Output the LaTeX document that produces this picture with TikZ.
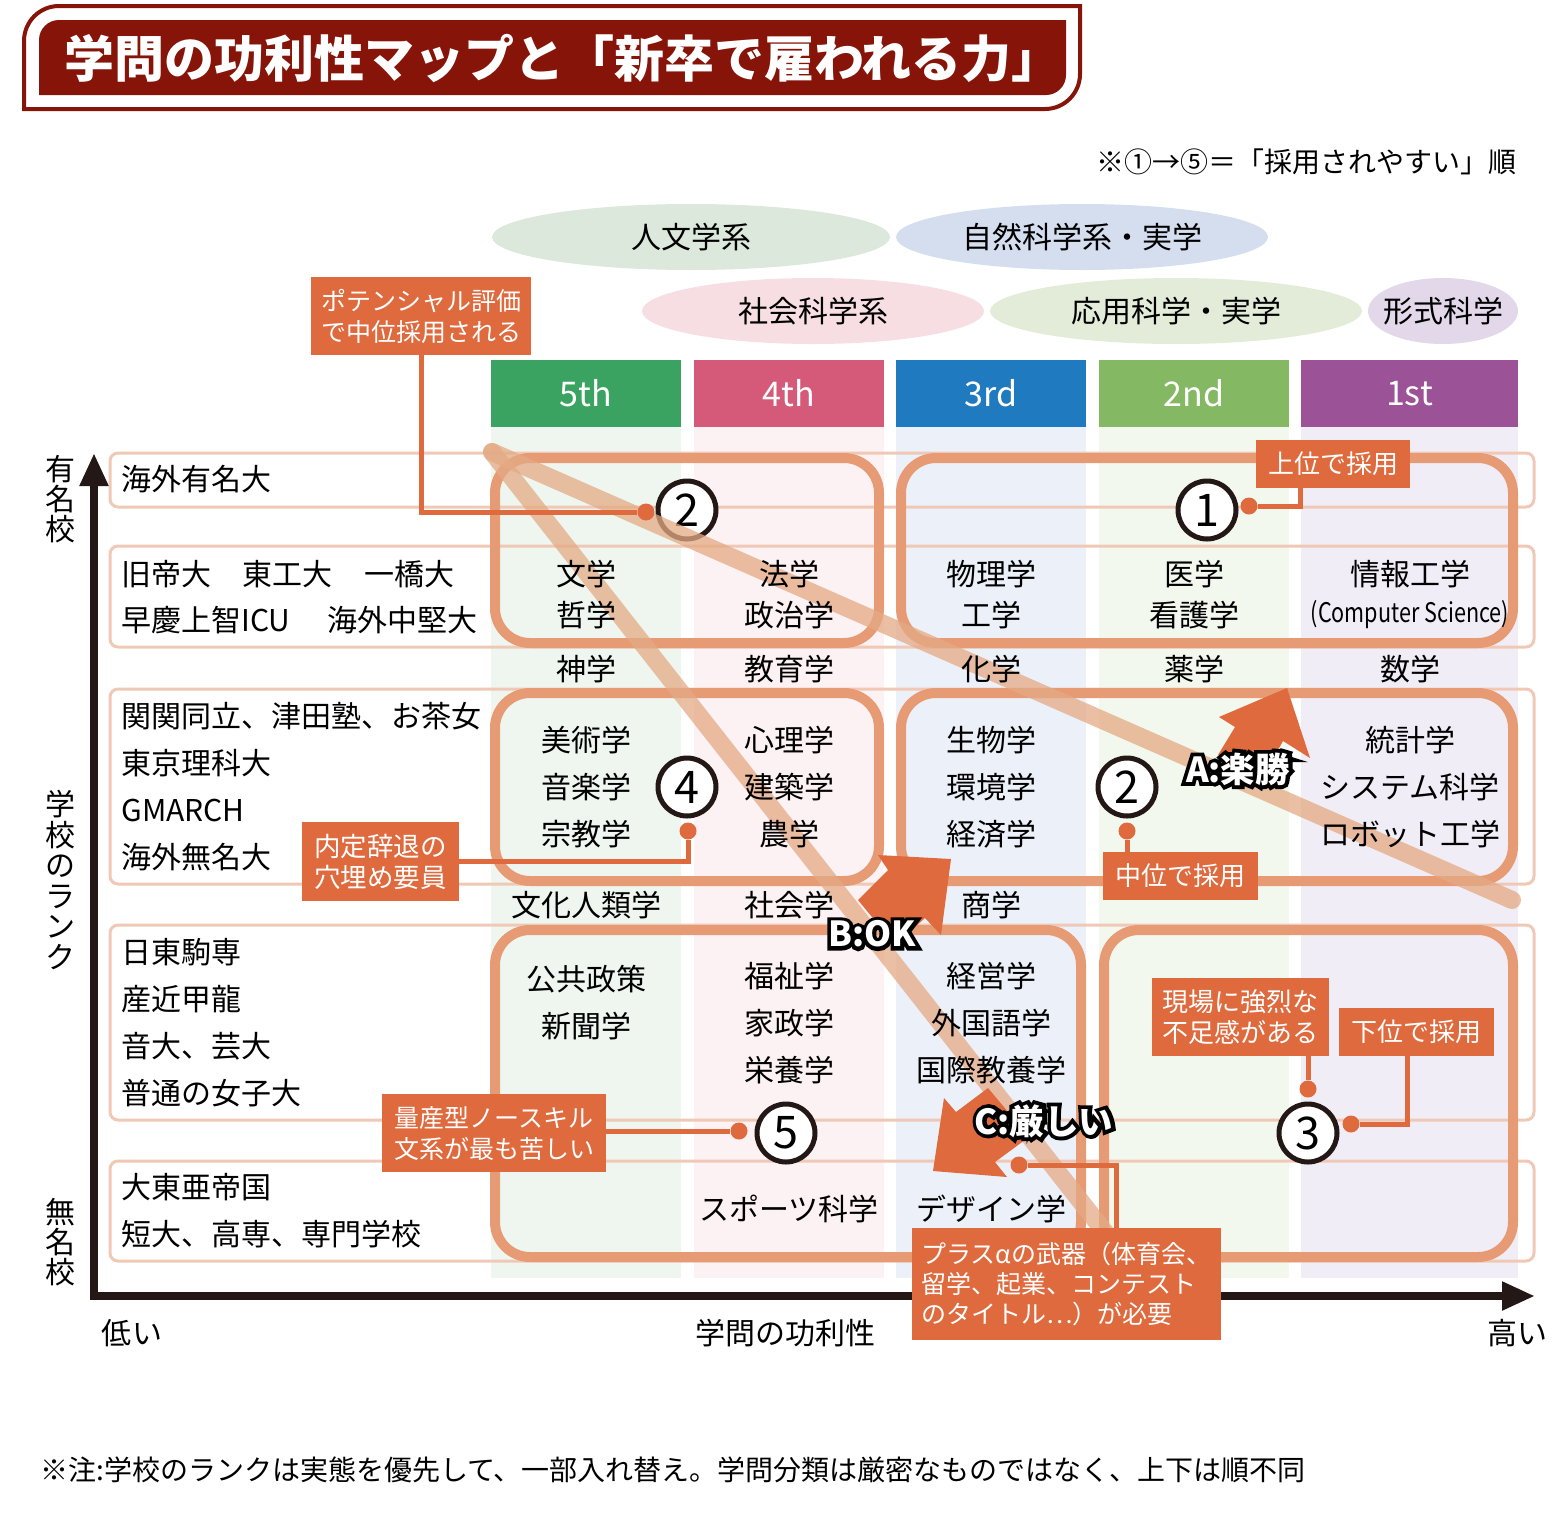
\documentclass[tikz,border=0pt]{standalone}
\usepackage{fontspec}
\usepackage{graphicx}
\setmainfont{Noto Sans CJK JP}
\newfontfamily\outlinefont[BoldFeatures={FakeBold=22}]{Noto Sans CJK JP}
\usetikzlibrary{arrows.meta}
\usetikzlibrary{shapes.geometric}
\definecolor{titlered}{HTML}{861408}
\definecolor{calloutc}{HTML}{DE6A3E}
\definecolor{framec}{HTML}{E69B75}
\definecolor{bandc}{HTML}{E4AA84}
\definecolor{rowc}{HTML}{F0C9B6}
\definecolor{axisc}{HTML}{231815}
\definecolor{humanc}{HTML}{DCE8DC}
\definecolor{naturec}{HTML}{D5DEEF}
\definecolor{socialc}{HTML}{F7DEE2}
\definecolor{appliedc}{HTML}{E3ECD8}
\definecolor{formalc}{HTML}{E2D8EA}
\definecolor{fifthc}{HTML}{3BA361}
\definecolor{fourthc}{HTML}{D55A7A}
\definecolor{thirdc}{HTML}{1F7ABF}
\definecolor{secondc}{HTML}{84B863}
\definecolor{firstc}{HTML}{9B5297}
\definecolor{fifthl}{HTML}{EFF6F0}
\definecolor{fourthl}{HTML}{FCF1F3}
\definecolor{thirdl}{HTML}{ECF0F9}
\definecolor{secondl}{HTML}{F3F8EE}
\definecolor{firstl}{HTML}{F1EDF7}

\begin{document}
\begin{tikzpicture}[x=0.2mm, y=-0.2mm,
	txt/.style = {inner sep=0, font=\fontsize{6mm}{9.4mm}\selectfont},
	rank/.style = {txt, anchor=west},
	area/.style = {ellipse, txt, outer sep=0, minimum height=13.2mm},
	head/.style = {inner sep=0, minimum height=13.4mm, text=white, font=\fontsize{6.8mm}{8mm}\selectfont},
	row/.style = {draw=rowc, line width=0.6mm, rounded corners=1.6mm},
	frame/.style = {draw=framec, line width=2mm, rounded corners=7mm},
	band/.style = {draw=bandc, line width=3.6mm, line cap=round, opacity=0.75},
	num/.style = {draw=axisc, fill=white, circle, line width=1mm, minimum size=11.6mm, inner sep=0, font=\fontsize{9mm}{10mm}\selectfont},
	callout/.style = {fill=calloutc, text=white, inner sep=0, align=center, font=\fontsize{5.2mm}{6.2mm}\selectfont},
	link/.style = {draw=calloutc, line width=1mm},
	dot/.style = {fill=calloutc, circle, minimum size=3.4mm, inner sep=0},
	block/.style = {fill=calloutc},
	tagback/.style = {inner sep=0, text=black, font=\fontsize{6.9mm}{7mm}\selectfont\outlinefont\bfseries},
	tag/.style = {inner sep=0, text=white, font=\fontsize{6.9mm}{7mm}\selectfont\bfseries},
	axis/.style = {draw=axisc, line width=1.6mm, {Triangle[length=6.6mm, width=5.4mm]}-{Triangle[length=6.6mm, width=5.4mm]}}]
	\useasboundingbox (0,0) rectangle (1566,1514);

	\draw[titlered, line width=0.8mm] (24,109) [rounded corners=7mm] -- (24,6) [sharp corners] -- (1080,6) [rounded corners=7mm] -- (1080,109) [sharp corners] -- cycle;
	\fill[titlered] (39,95) [rounded corners=4mm] -- (39,20) [sharp corners] -- (1066,20) [rounded corners=4mm] -- (1066,95) [sharp corners] -- cycle;
	\node[inner sep=0, text=white, font=\fontsize{10mm}{11mm}\selectfont\bfseries] (title) at (563,58){学問の功利性マップと「新卒で雇われる力」};
	\node[inner sep=0, font=\fontsize{5.6mm}{7mm}\selectfont] (order) at (1306,162){※①→⑤＝「採用されやすい」順};

	\node[area, fill=humanc, minimum width=79.6mm] (human) at (691,237){人文学系};
	\node[area, fill=naturec, minimum width=74.4mm] (nature) at (1082,237){自然科学系・実学};
	\node[area, fill=socialc, minimum width=68.4mm] (social) at (813,311){社会科学系};
	\node[area, fill=appliedc, minimum width=74.4mm] (applied) at (1176,311){応用科学・実学};
	\node[area, fill=formalc, minimum width=30mm] (formal) at (1443,311){\makebox[0pt]{形式科学}};

	\fill[fifthl] (491,427) rectangle (681,1278);
	\fill[fourthl] (694,427) rectangle (884,1278);
	\fill[thirdl] (896,427) rectangle (1086,1278);
	\fill[secondl] (1099,427) rectangle (1289,1278);
	\fill[firstl] (1301,427) rectangle (1518,1278);
	\node[head, minimum width=38mm, fill=fifthc] (fifth) at (586,393.5){5th};
	\node[head, minimum width=38mm, fill=fourthc] (fourth) at (789,393.5){4th};
	\node[head, minimum width=38mm, fill=thirdc] (third) at (991,393.5){3rd};
	\node[head, minimum width=38mm, fill=secondc] (second) at (1194,393.5){2nd};
	\node[head, minimum width=43.4mm, fill=firstc] (first) at (1409.5,393.5){1st};

	\draw[row] (110,453) rectangle (1534,507);
	\draw[row] (110,546) rectangle (1534,647);
	\draw[row] (110,689) rectangle (1534,884);
	\draw[row] (110,925) rectangle (1534,1120);
	\draw[row] (110,1161) rectangle (1534,1261);

	\draw[frame] (495,458) rectangle (879,643);
	\draw[frame] (901,458) rectangle (1513,643);
	\draw[frame] (495,693) rectangle (879,881);
	\draw[frame] (901,693) rectangle (1513,881);
	\draw[frame] (495,930) rectangle (1081,1257);
	\draw[frame] (1104,930) rectangle (1513,1257);

	\node[num] (numB) at (687,510){2};
	\coordinate (startX) at (492,452);
	\coordinate (endA) at (1512,900);
	\coordinate (endC) at (1115,1245);
	\draw[band] (startX) -- (endA);
	\draw[band] (startX) -- (endC);

	\node[rank] (r1) at (121,479){海外有名大};
	\node[rank] (r2) at (121,574){旧帝大\hspace{6.3mm}東工大\hspace{6.3mm}一橋大};
	\node[rank] (r3) at (121,620){早慶上智ICU\hspace{7.5mm}海外中堅大};
	\node[rank] (r4) at (121,716){関関同立、津田塾、お茶女};
	\node[rank] (r5) at (121,763){東京理科大};
	\node[rank] (r6) at (121,810){GMARCH};
	\node[rank] (r7) at (121,857){海外無名大};
	\node[rank] (r8) at (121,952){日東駒専};
	\node[rank] (r9) at (121,999){産近甲龍};
	\node[rank] (r10) at (121,1046){音大、芸大};
	\node[rank] (r11) at (121,1093){普通の女子大};
	\node[rank] (r12) at (121,1187){大東亜帝国};
	\node[rank] (r13) at (121,1234){短大、高専、専門学校};

	\node[txt] (lit) at (586,574){文学};
	\node[txt] (phil) at (586,615){哲学};
	\node[txt] (law) at (789,574){法学};
	\node[txt] (pol) at (789,615){政治学};
	\node[txt] (phys) at (991,574){物理学};
	\node[txt] (eng) at (991,615){工学};
	\node[txt] (med) at (1194,574){医学};
	\node[txt] (nurse) at (1194,615){看護学};
	\node[txt] (info) at (1410,574){情報工学};
	\node[txt] (cs) at (1410,615){\scalebox{0.8}[1]{\fontsize{5.4mm}{6mm}\selectfont (Computer Science)}};
	\node[txt] (theo) at (586,669){神学};
	\node[txt] (edu) at (789,669){教育学};
	\node[txt] (chem) at (991,669){化学};
	\node[txt] (pharm) at (1194,669){薬学};
	\node[txt] (math) at (1410,669){数学};
	\node[txt] (art) at (586,740){美術学};
	\node[txt] (music) at (586,787){音楽学};
	\node[txt] (relig) at (586,834){宗教学};
	\node[txt] (psy) at (789,740){心理学};
	\node[txt] (arch) at (789,787){建築学};
	\node[txt] (agri) at (789,834){農学};
	\node[txt] (bio) at (991,740){生物学};
	\node[txt] (env) at (991,787){環境学};
	\node[txt] (econ) at (991,834){経済学};
	\node[txt] (stat) at (1410,740){統計学};
	\node[txt] (sys) at (1410,787){システム科学};
	\node[txt] (robot) at (1410,834){ロボット工学};
	\node[txt] (anth) at (586,905){文化人類学};
	\node[txt] (soc) at (789,905){社会学};
	\node[txt] (comm) at (991,905){商学};
	\node[txt] (policy) at (586,979){公共政策};
	\node[txt] (news) at (586,1026){新聞学};
	\node[txt] (welfare) at (789,976){福祉学};
	\node[txt] (home) at (789,1023){家政学};
	\node[txt] (food) at (789,1070){栄養学};
	\node[txt] (manage) at (991,976){経営学};
	\node[txt] (lang) at (991,1023){外国語学};
	\node[txt] (liberal) at (991,1070){国際教養学};
	\node[txt] (sports) at (789,1209){スポーツ科学};
	\node[txt] (design) at (991,1209){デザイン学};

	\node[txt, align=center, font=\fontsize{6mm}{6mm}\selectfont] (yhigh) at (60,499){有\\名\\校};
	\node[txt, align=center, font=\fontsize{6mm}{6.1mm}\selectfont] (ymid) at (60,880){学\\校\\の\\ラ\\ン\\ク};
	\node[txt, align=center, font=\fontsize{6mm}{6mm}\selectfont] (ylow) at (60,1242){無\\名\\校};
	\coordinate (origin) at (94,1296);
	\coordinate (ytip) at (94,453);
	\coordinate (xtip) at (1535,1296);
	\draw[axis] (ytip) -- (origin) -- (xtip);
	\node[txt] (low) at (132,1333){低い};
	\node[txt] (xname) at (785,1333){学問の功利性};
	\node[txt] (high) at (1517,1333){高い};
	\node[rank, font=\fontsize{5.6mm}{7mm}\selectfont] (remark) at (40,1470){※注:学校のランクは実態を優先して、一部入れ替え。学問分類は厳密なものではなく、上下は順不同};

	\fill[block] (1287,688) -- (1310,758) -- (1283,741) -- (1264,775) -- (1218,755) -- (1235,727) -- (1219,717) -- cycle;
	\fill[block] (951,859) -- (941,935) -- (925,918) -- (895,945) -- (858,900) -- (888,870) -- (878,855) -- cycle;
	\fill[block] (933,1171) -- (944,1098) -- (956,1112) -- (988,1088) -- (1029,1137) -- (995,1162) -- (1007,1177) -- cycle;
	\node[tagback] (backA) at (1238,769){A:楽勝};
	\node[tagback] (backB) at (872,934){B:OK};
	\node[tagback] (backC) at (1044,1121){C:厳しい};
	\node[tag] (tagA) at (backA){A:楽勝};
	\node[tag] (tagB) at (backB){B:OK};
	\node[tag] (tagC) at (backC){C:厳しい};

	\node[num] (numA) at (1207,510){1};
	\node[num] (numC) at (1127,787){2};
	\node[num] (numD) at (1308,1133){3};
	\node[num] (numE) at (687,787){4};
	\node[num] (numF) at (786,1133){5};

	\node[callout, minimum width=44mm, minimum height=15.6mm, font=\fontsize{5mm}{6.2mm}\selectfont] (potential) at (421,316){ポテンシャル評価\\で中位採用される};
	\node[callout, minimum width=30.8mm, minimum height=9.6mm] (upper) at (1333,464){上位で採用};
	\node[callout, minimum width=31mm, minimum height=9.6mm] (middle) at (1180.5,876){中位で採用};
	\node[callout, minimum width=35.4mm, minimum height=15.6mm] (field) at (1240.5,1017){現場に強烈な\\不足感がある};
	\node[callout, minimum width=31mm, minimum height=9.6mm] (lower) at (1416.5,1032){下位で採用};
	\node[callout, minimum width=31.4mm, minimum height=15.8mm, font=\fontsize{5.3mm}{6.2mm}\selectfont] (decline) at (380.5,861.5){内定辞退の\\穴埋め要員};
	\node[callout, minimum width=44.8mm, minimum height=15.6mm, font=\fontsize{5mm}{6.2mm}\selectfont] (mass) at (494,1133){量産型ノースキル\\文系が最も苦しい};
	\node[callout, minimum width=61.8mm, minimum height=22.4mm, align=left, font=\fontsize{5mm}{6mm}\selectfont] (weapon) at (1066.5,1284){プラスαの武器（体育会、\\留学、起業、コンテスト\\のタイトル⋯）が必要};

	\node[dot] (dotB) at (646,512){};
	\node[dot] (dotA) at (1249,506){};
	\node[dot] (dotC) at (1127,831){};
	\node[dot] (dotD1) at (1308,1089){};
	\node[dot] (dotD2) at (1351,1124){};
	\node[dot] (dotE) at (688,831){};
	\node[dot] (dotF) at (739,1131){};
	\node[dot] (dotG) at (1019,1165){};
	\draw[link] (potential.south) |- (dotB);
	\draw[link] ([xshift=-6.6mm]upper.south) |- (dotA);
	\draw[link] (dotC) -- (dotC |- middle.north);
	\draw[link] (dotD1) -- (dotD1 |- field.south);
	\draw[link] ([xshift=-1.8mm]lower.south) |- (dotD2);
	\draw[link] (decline.east) -| (dotE);
	\draw[link] (dotF -| mass.east) -- (dotF);
	\draw[link] ([xshift=9.9mm]weapon.north) |- (dotG);
\end{tikzpicture}
\end{document}
